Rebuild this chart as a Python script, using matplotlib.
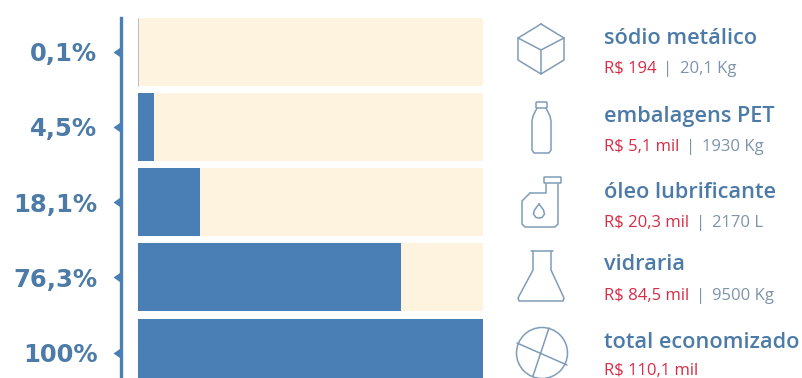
import matplotlib.pyplot as plt
import numpy as np
from matplotlib.patches import Circle, FancyBboxPatch

W, H = 803, 378

# Dados do gráfico
percentuais = [0.1, 4.5, 18.1, 76.3, 100]
rotulos = ['0,1%', '4,5%', '18,1%', '76,3%', '100%']
materiais = ['sódio metálico', 'embalagens PET', 'óleo lubrificante', 'vidraria', 'total economizado']
custos = ['R$ 194', 'R$ 5,1 mil', 'R$ 20,3 mil', 'R$ 84,5 mil', 'R$ 110,1 mil']
quantidades = ['20,1 Kg', '1930 Kg', '2170 L', '9500 Kg', '']

AZUL = '#4a7fb5'
CREME = '#fdf3df'
TITULO = '#4d7ba8'
VERMELHO = '#d92c45'
CINZA = '#7d94ab'
ICONE = '#7f9cb8'

plt.rcParams['font.family'] = ['Open Sans', 'DejaVu Sans']

fig = plt.figure(figsize=(W / 100, H / 100), dpi=100)

# Barras: fundo creme até 100% e valor em azul por cima
ax = fig.add_axes([138 / W, 0, 345 / W, 1])
y = np.arange(len(percentuais))
ax.barh(y, [100] * len(y), height=0.903, color=CREME, linewidth=0)
barras = ax.barh(y, percentuais, height=0.903, color=AZUL, linewidth=0)
# A barra de 0,1% é quase invisível: contorno fino para aparecer
barras[0].set_edgecolor('#b4bec6')
barras[0].set_linewidth(0.7)
ax.set_xlim(0, 100)
ax.set_ylim(4.336, -0.684)
ax.patch.set_alpha(0)
ax.xaxis.set_visible(False)
for lado in ['top', 'right', 'bottom']:
    ax.spines[lado].set_visible(False)

# Eixo vertical deslocado, com marcas triangulares
ax.spines['left'].set_position(('outward', 12.2))
ax.spines['left'].set_color(AZUL)
ax.spines['left'].set_linewidth(2.4)
ax.spines['left'].set_bounds(-0.45, 4.336)
ax.set_yticks(y)
ax.set_yticklabels(rotulos, fontsize=17.5, fontweight='bold', color=TITULO, family='DejaVu Sans')
ax.tick_params(axis='y', length=0, pad=17)
for tick in ax.yaxis.get_major_ticks():
    tick.tick1line.set_marker([(-1, 0), (0, 0.7), (0, -0.7)])
    tick.tick1line.set_markersize(11.5)
    tick.tick1line.set_markerfacecolor(AZUL)
    tick.tick1line.set_markeredgewidth(0)
    tick.label1.set_y(tick.get_loc())

# Camada em pixels para textos e ícones
ic = fig.add_axes([0, 0, 1, 1])
ic.set_xlim(0, W)
ic.set_ylim(H, 0)
ic.axis('off')
ic.patch.set_alpha(0)


def linha(xs, ys):
    ic.plot(xs, ys, color=ICONE, lw=1.1, solid_capstyle='round', solid_joinstyle='round')


def caixa(x, y0, w, h, raio):
    ic.add_patch(FancyBboxPatch((x + raio, y0 + raio), w - 2 * raio, h - 2 * raio,
                                boxstyle='round,pad=%g,rounding_size=%g' % (raio, raio),
                                fc='none', ec=ICONE, lw=1.1))


# Cubo
linha([541, 564, 564, 541, 518, 518, 541], [24, 38, 60, 74, 60, 38, 24])
linha([518, 541, 564], [38, 50, 38])
linha([541, 541], [50, 74])

# Garrafa
caixa(536, 102, 11, 6, 1)
linha([537, 533, 532, 532, 534, 549, 551, 551, 550, 546],
      [108, 116, 121, 150, 153, 153, 150, 121, 116, 108])

# Galão de óleo
linha([530, 546, 546], [193, 193, 184])
linha([558, 558, 555, 525, 522, 522, 530], [184, 224, 227, 227, 224, 201, 193])
caixa(544, 177, 17, 6, 0.5)
linha([539, 534.5, 533.5, 536, 539, 542, 544.5, 543.5, 539],
      [204, 210, 214, 217.5, 218, 217.5, 214, 210, 204])

# Frasco
linha([531, 553], [251, 251])
linha([533, 533, 518, 519, 563, 564, 551, 551], [251, 270, 298, 301, 301, 298, 270, 251])

# Círculo do total
ic.add_patch(Circle((542, 353), 25.5, fc='none', ec=ICONE, lw=1.1))
linha([549, 533], [328, 376])
linha([517, 567], [343, 365])

# Nome do material e linha de custo e quantidade
base_nome = [44, 122, 197.5, 270, 347.5]
base_valor = [73, 151, 227, 299.5, 375]
render = fig.canvas.get_renderer()
for nome, custo, qtd, yt, yb in zip(materiais, custos, quantidades, base_nome, base_valor):
    ic.text(604, yt, nome, fontsize=15.7, fontweight='semibold', color=TITULO, va='baseline', ha='left')
    t = ic.text(604, yb, custo, fontsize=12, color=VERMELHO, va='baseline', ha='left')
    if qtd:
        fim = 604 + t.get_window_extent(render).width
        ic.text(fim + 11, yb, '|', fontsize=12, color=CINZA, va='baseline', ha='center')
        ic.text(fim + 23, yb, qtd, fontsize=12, color=CINZA, va='baseline', ha='left')

fig.savefig('out.png', dpi=100)
